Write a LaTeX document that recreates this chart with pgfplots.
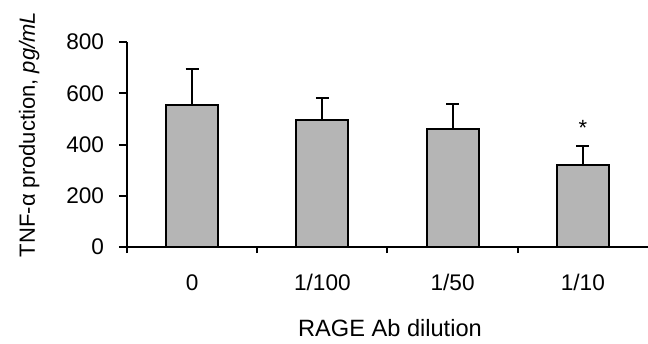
\documentclass[border=0pt]{standalone}
\usepackage{fontspec}
\setmainfont{Liberation Sans}
\usepackage{pgfplots}
\pgfplotsset{compat=1.18}
\begin{document}
\begin{tikzpicture}
\begin{axis}[
  name=ax,
  scale only axis,
  width=260.5pt, height=102.5pt,
  xmin=-0.5, xmax=3.5, ymin=0, ymax=800,
  enlargelimits=false,
  clip=false,
  axis x line*=bottom, axis y line*=left,
  axis line style={line width=1pt, black},
  tick align=outside,
  xtick={-0.5,0.5,1.5,2.5},
  xticklabels={},
  x tick style={line width=1pt, black},
  xtick style={/pgfplots/major tick length=3pt},
  extra x ticks={0,1,2,3},
  extra x tick labels={0,1/100,1/50,1/10},
  extra x tick style={major tick length=0pt, tick style={draw=none},
    xticklabel style={anchor=base, yshift=-21.75pt, inner sep=0pt}},
  ytick={0,200,400,600,800},
  y tick style={line width=1pt, black},
  ytick style={/pgfplots/major tick length=4pt},
  yticklabel style={anchor=east, inner sep=0pt, xshift=-7pt},
  /pgf/number format/assume math mode=true,
  tick label style={font=\fontsize{11.3pt}{13pt}\selectfont},
  xlabel={RAGE Ab dilution},
  xlabel style={at={(axis description cs:0.5048,-0.439)}, anchor=base, inner sep=0pt, font=\fontsize{11.8pt}{13pt}\selectfont},
  ylabel={TNF-α production, \textit{pg/mL}},
  ylabel style={at={(axis description cs:-0.1766,0.5488)}, anchor=base, inner sep=0pt, font=\fontsize{11pt}{13pt}\selectfont},
]
\addplot[ybar, bar width=0.4, fill=black!29, draw=black, line width=1pt,
  error bars/.cd, y dir=plus, y explicit,
  error bar style={line width=1pt, black},
  error mark options={rotate=90, line width=1pt, mark size=3.25pt, black}]
  coordinates {(0,554) +- (0,139) (1,494) +- (0,89) (2,461) +- (0,97) (3,321) +- (0,74)};
\node[anchor=base, inner sep=0pt, font=\fontsize{11pt}{13pt}\selectfont] at (axis cs:3,435) {*};
\end{axis}
\pgfresetboundingbox
\useasboundingbox ([shift={(-63.5pt,-48pt)}]ax.south west) rectangle ([shift={(260.5pt,123.5pt)}]ax.south west);
\end{tikzpicture}
\end{document}
